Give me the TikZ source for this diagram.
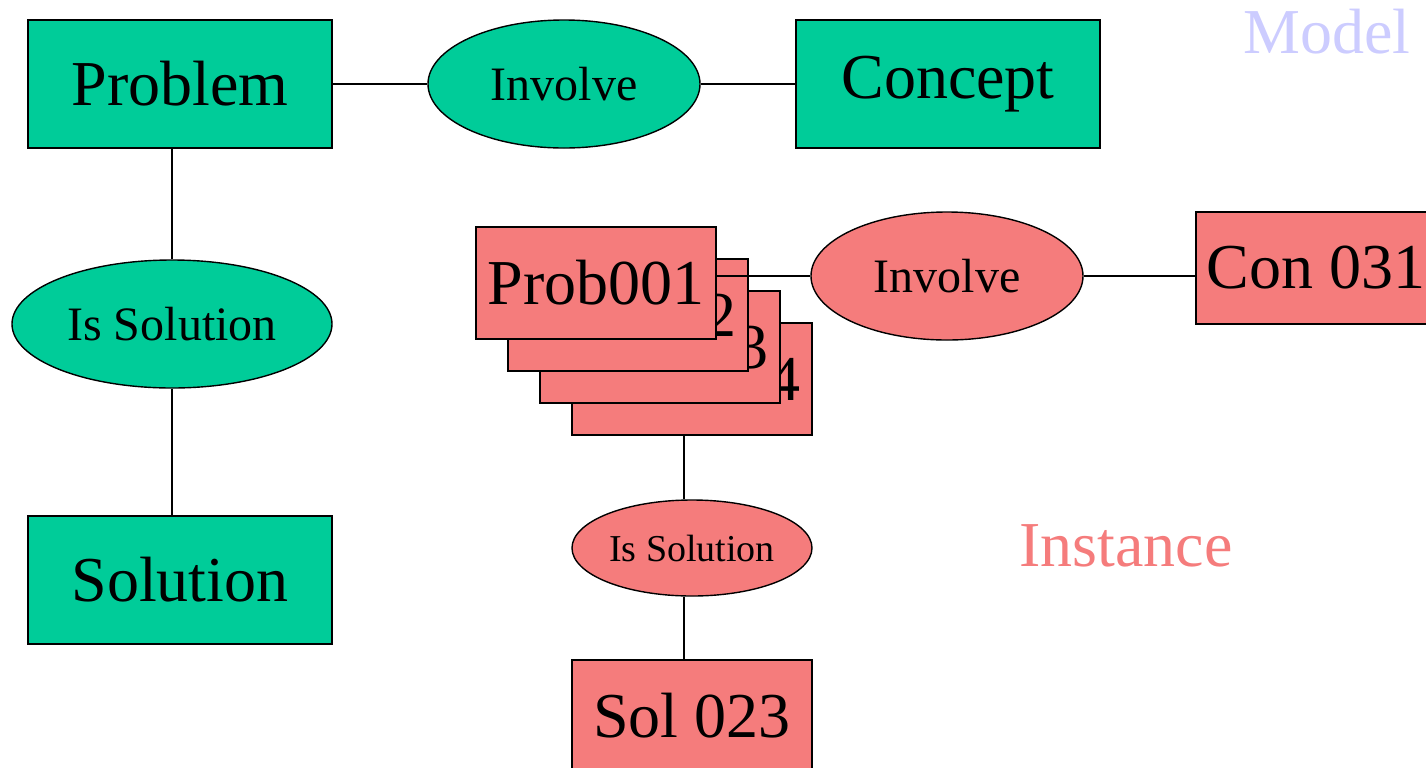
\documentclass[tikz,border=0pt]{standalone}
\usepackage{fontspec}
\setmainfont{LiberationSerif}[Extension=.ttf,UprightFont=*-Regular]
\usepackage{tikz}
\usetikzlibrary{shapes.geometric,positioning}
\definecolor{verdeMar}{RGB}{0,204,153}
\definecolor{salmon}{RGB}{245,124,124}
\definecolor{lavanda}{RGB}{204,204,255}
\tikzstyle{edge}  =[line width=1pt]
\tikzstyle{mbox}  =[rectangle, draw, fill=verdeMar, line width=0.9pt,
                    minimum width=152pt, minimum height=64pt,
                    inner sep=0pt, font=\fontsize{32}{36}\selectfont]
\tikzstyle{mrel}  =[ellipse, draw, fill=verdeMar, line width=0.7pt,
                    minimum height=64pt, inner sep=0pt,
                    font=\fontsize{24}{28}\selectfont]
\tikzstyle{ibox}  =[rectangle, draw, fill=salmon, line width=0.9pt,
                    minimum width=120pt, minimum height=56pt,
                    inner sep=0pt, font=\fontsize{32}{36}\selectfont]
\tikzstyle{irel}  =[ellipse, draw, fill=salmon, line width=0.7pt,
                    inner sep=0pt]
\begin{document}
\begin{tikzpicture}[x=0.5pt,y=-0.5pt]
    \clip (0,0) rectangle (1426,767);

    % model level
    \draw (180,84)  node(prob)[mbox]{Problem};
    \draw (564,84)  node(inv1)[mrel, minimum width=136pt]{Involve};
    \draw (948,84)  node(conc)[mbox]{Concept};
    \draw (172,324) node(sol1)[mrel, minimum width=160pt]{Is Solution};
    \draw (180,580) node(solu)[mbox]{Solution};

    \foreach \i/\j in {prob/inv1,inv1/conc}
        \draw [edge] (\i) -- (\j);
    \draw [edge] (sol1.north) -- (sol1.north |- prob.south);
    \draw [edge] (sol1.south) -- (sol1.south |- solu.north);

    % instance level, stacked problems drawn back to front
    \foreach \i in {4,3,2,1}
        \draw ({596+32*(\i-1)},{283+32*(\i-1)}) node(p\i)[ibox]{Prob00\i};
    \draw (947,276) node(inv2)[irel, minimum width=136pt, minimum height=64pt,
        font=\fontsize{24}{28}\selectfont]{Involve};
    \draw (1316,268) node(con)[ibox]{Con 031};
    \draw (692,548) node(sol2)[irel, minimum width=120pt, minimum height=48pt,
        font=\fontsize{19}{22}\selectfont]{Is Solution};
    \draw (692,716) node(s23)[ibox]{Sol 023};

    \draw [edge] (inv2.west) -- (inv2.west -| p1.east);
    \draw [edge] (inv2.east) -- (inv2.east -| con.west);
    \coordinate (k) at (684,436);
    \draw [edge] (k) -- (k |- sol2.north);
    \draw [edge] (sol2.south -| k) -- (s23.north -| k);

    % level labels
    \node (model)[text=lavanda, font=\fontsize{32}{36}\selectfont] at (1327,32) {Model};
    \node (inst)[text=salmon, font=\fontsize{32}{36}\selectfont] at (1126,546) {Instance};
\end{tikzpicture}
\end{document}
